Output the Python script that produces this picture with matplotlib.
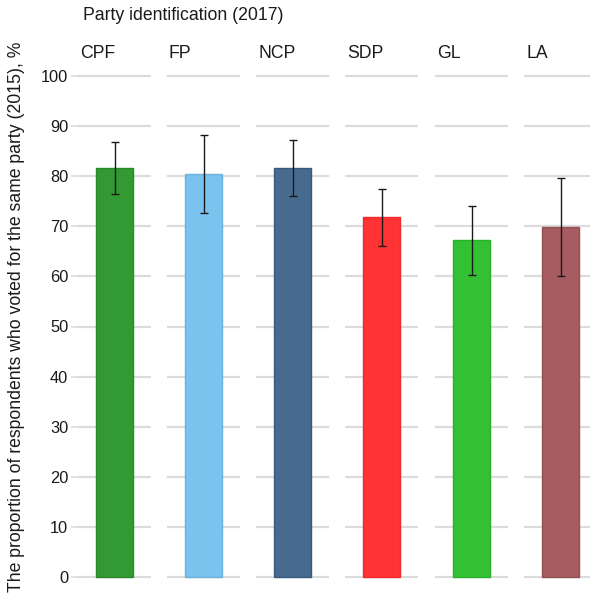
import matplotlib
matplotlib.use("Agg")
import matplotlib.pyplot as plt

plt.rcParams['font.family'] = ['Liberation Sans', 'DejaVu Sans']

parties = ["CPF", "FP", "NCP", "SDP", "GL", "LA"]
values = [81.6, 80.5, 81.6, 71.9, 67.3, 69.9]
err_low = [76.4, 72.6, 76.0, 66.1, 60.2, 60.0]
err_high = [86.8, 88.3, 87.2, 77.5, 74.0, 79.7]
colors = ["#339933", "#7AC3EE", "#476B8E", "#FF3333", "#33C033", "#A65C60"]
edges = ["#2A8A2A", "#6AB3E0", "#3A5A7C", "#EE2A2A", "#2AB02A", "#945055"]
yticks = list(range(0, 101, 10))

W, H = 590, 593
fig = plt.figure(figsize=(W / 100, H / 100), dpi=100)

panel_w = 73
lefts = [78, 167, 256, 345, 435, 524]
top_px, bot_px = 71, 582

for i, p in enumerate(parties):
    ax = fig.add_axes([lefts[i] / W, 1 - bot_px / H, panel_w / W, (bot_px - top_px) / H])
    ax.set_xlim(-0.5, 0.5)
    ax.set_ylim(-1, 101)
    for y in yticks:
        ax.axhline(y, color="#DCDCDC", lw=1.6, zorder=0)
    ax.bar(0, values[i], width=0.51, color=colors[i], edgecolor=edges[i], lw=1, zorder=2)
    ax.errorbar(0, values[i], yerr=[[values[i] - err_low[i]], [err_high[i] - values[i]]],
                fmt="none", ecolor="#1a1a1a", elinewidth=1, capsize=3, capthick=1, zorder=3)
    for s in ax.spines.values():
        s.set_visible(False)
    ax.set_xticks([])
    if i == 0:
        ax.set_yticks(yticks)
        ax.tick_params(axis="y", length=5.0, color="#DCDCDC", width=1.2, labelsize=11.8,
                       pad=2, labelcolor="#1a1a1a")
    else:
        ax.set_yticks([])
    fig.text((lefts[i] + 2) / W, 1 - 58 / H, p, fontsize=12.7, color="#1a1a1a",
             ha="left", va="baseline")

fig.text(17 / W, 1 - 317 / H,
         "The proportion of respondents who voted for the same party (2015), %",
         fontsize=12.7, color="#1a1a1a", rotation=90, ha="center", va="center")

fig.text(83 / W, 1 - 20 / H, "Party identification (2017)", fontsize=12.7,
         color="#1a1a1a", ha="left", va="baseline")

fig.savefig("out.png", dpi=100)
